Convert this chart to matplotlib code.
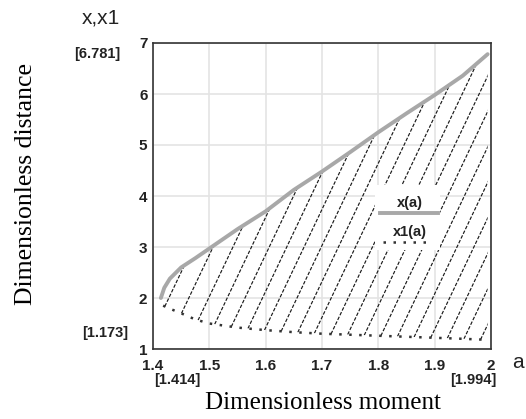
import numpy as np
import matplotlib
matplotlib.use("Agg")
import matplotlib.pyplot as plt
from matplotlib.patches import Polygon, Rectangle
from matplotlib.transforms import blended_transform_factory

# Data
a_upper = [1.414, 1.42, 1.43, 1.45, 1.475, 1.50, 1.55, 1.60, 1.65, 1.70,
           1.75, 1.80, 1.85, 1.90, 1.95, 1.994]
x_upper = [2.00, 2.20, 2.38, 2.60, 2.78, 2.97, 3.35, 3.70, 4.12, 4.48,
           4.86, 5.25, 5.62, 5.98, 6.36, 6.781]

a_lower = [1.418, 1.43, 1.45, 1.475, 1.50, 1.55, 1.60, 1.65, 1.70, 1.75,
           1.80, 1.85, 1.90, 1.95, 1.994]
x_lower = [1.85, 1.79, 1.70, 1.58, 1.50, 1.42, 1.37, 1.33, 1.30, 1.28,
           1.26, 1.24, 1.22, 1.20, 1.18]

x_ticks = [1.4, 1.5, 1.6, 1.7, 1.8, 1.9, 2.0]
x_tick_labels = ["1.4", "1.5", "1.6", "1.7", "1.8", "1.9", "2"]
y_ticks = [1, 2, 3, 4, 5, 6, 7]

# hatch: start points along the lower curve
hatch_start = 1.421
hatch_step = 0.0295
hatch_slope_px = 2.1

SANS = "Liberation Sans"
SERIF = "Liberation Serif"
DARK = "#222222"

W, H = 526, 419
fig = plt.figure(figsize=(W / 100, H / 100), dpi=100)
ax = fig.add_axes([153 / W, 1 - 349 / H, 338 / W, 306 / H])

ax.set_xlim(1.4, 2.0)
ax.set_ylim(1, 7)
ax.set_xticks(x_ticks)
ax.set_xticklabels(x_tick_labels)
ax.set_yticks(y_ticks)
ax.tick_params(length=0)
ax.tick_params(axis="x", pad=7)
ax.tick_params(axis="y", pad=4)
for lab in ax.get_xticklabels() + ax.get_yticklabels():
    lab.set_fontfamily(SANS)
    lab.set_fontweight("bold")
    lab.set_fontsize(11)
    lab.set_color(DARK)

ax.grid(True, color="#e4e4e4", linewidth=1.2)
ax.set_axisbelow(True)
for sp in ax.spines.values():
    sp.set_color("#333333")
    sp.set_linewidth(1.2)

# region between curves, used to clip the hatch lines
verts = list(zip(a_upper, x_upper)) + list(zip(a_lower[::-1], x_lower[::-1]))
region = Polygon(verts, closed=True, facecolor="none", edgecolor="none")
ax.add_patch(region)

# convert pixel slope to data slope
px_per_a = 338 / (2.0 - 1.4)
px_per_y = 306 / (7 - 1)
slope = hatch_slope_px * px_per_a / px_per_y

starts = np.arange(hatch_start, a_lower[-1], hatch_step)
for s in starts:
    y0 = np.interp(s, a_lower, x_lower)
    ln, = ax.plot([s, s + 0.4], [y0, y0 + 0.4 * slope], color="#1a1a1a",
                  linewidth=0.85, linestyle=(0, (3, 1.4)), zorder=2)
    ln.set_clip_path(region)

ax.plot(a_upper, x_upper, color="#a8a8a8", linewidth=2.8,
        solid_capstyle="round", zorder=4)
ax.plot(a_lower, x_lower, color="#333333", linewidth=1.8,
        linestyle=(0, (1, 3)), zorder=4)

# legend box drawn by hand
ax.add_patch(Rectangle((0.657, 0.323), 0.192, 0.213, transform=ax.transAxes,
                       facecolor="white", edgecolor="none", zorder=5))
ax.text(0.760, 0.477, "x(a)", transform=ax.transAxes, ha="center", va="center",
        fontfamily=SANS, fontweight="bold", fontsize=10.5, color=DARK, zorder=6)
ax.plot([0.672, 0.843], [0.445, 0.445], transform=ax.transAxes,
        color="#a8a8a8", linewidth=2.8, zorder=6)
ax.text(0.760, 0.383, "x1(a)", transform=ax.transAxes, ha="center", va="center",
        fontfamily=SANS, fontweight="bold", fontsize=10.5, color=DARK, zorder=6)
ax.plot([0.680, 0.828], [0.351, 0.351], transform=ax.transAxes,
        color="#333333", linewidth=1.8, linestyle=(0, (1, 3)), zorder=6)

# bracketed value labels
tr = blended_transform_factory(ax.transAxes, ax.transData)
ax.text(-0.098, 6.781, "[6.781]", transform=tr, ha="right", va="center",
        fontfamily=SANS, fontweight="bold", fontsize=10.5, color=DARK)
ax.text(-0.074, 1.173, "[1.173]", transform=tr, ha="right", va="bottom",
        fontfamily=SANS, fontweight="bold", fontsize=10.5, color=DARK)
ax.text(0.071, -0.101, "[1.414]", transform=ax.transAxes, ha="center", va="center",
        fontfamily=SANS, fontweight="bold", fontsize=10.5, color=DARK)
ax.text(0.948, -0.101, "[1.994]", transform=ax.transAxes, ha="center", va="center",
        fontfamily=SANS, fontweight="bold", fontsize=10.5, color=DARK)

# axis names
fig.text(101 / W, 1 - 18 / H, "x,x1", ha="center", va="center",
         fontfamily=SANS, fontsize=15, color=DARK)
fig.text(518 / W, 1 - 362 / H, "a", ha="center", va="center",
         fontfamily=SANS, fontsize=15, color=DARK)
fig.text(323 / W, 1 - 403 / H, "Dimensionless moment", ha="center", va="center",
         fontfamily=SERIF, fontsize=18)
fig.text(26 / W, 1 - 184 / H, "Dimensionless distance", ha="center", va="center",
         rotation=90, fontfamily=SERIF, fontsize=18.5)

fig.savefig("out.png", dpi=100)
